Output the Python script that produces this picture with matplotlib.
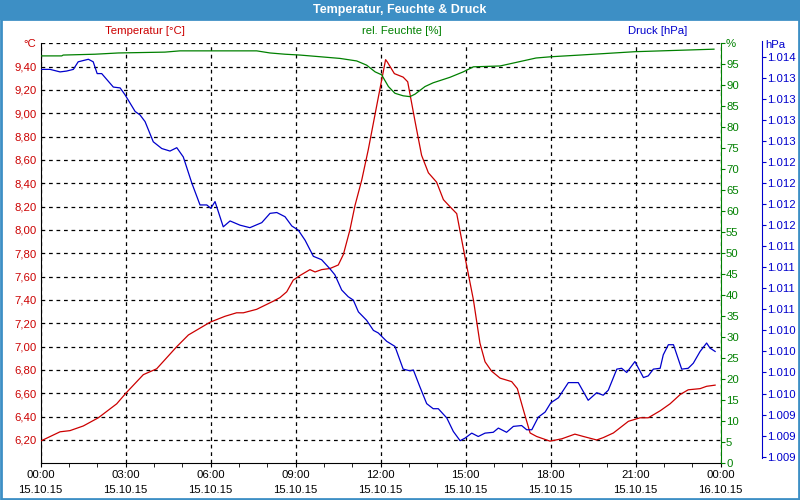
import numpy as np
import matplotlib
matplotlib.use("Agg")
import matplotlib.pyplot as plt
from matplotlib.patches import Rectangle

# Zeit in Stunden ab 15.10.15 00:00
temp_h = [0.00, 0.69, 1.04, 1.51, 2.04, 2.69, 3.01, 3.63, 4.10, 4.81, 5.22, 5.99,
          6.51, 6.92, 7.16, 7.63, 8.22, 8.45, 8.69, 8.92, 9.16, 9.51, 9.69, 9.92,
          10.22, 10.51, 10.69, 10.92, 11.10, 11.34, 11.57, 11.87, 12.18, 12.24,
          12.49, 12.80, 12.96, 13.22, 13.45, 13.69, 13.98, 14.22, 14.45, 14.69,
          14.98, 15.28, 15.51, 15.69, 15.92, 16.22, 16.63, 16.83, 17.04, 17.28,
          17.51, 17.98, 18.40, 18.86, 19.16, 19.63, 19.86, 20.22, 20.75, 21.16,
          21.45, 21.87, 22.22, 22.58, 22.86, 23.28, 23.51, 23.81]
temp_c = [6.19, 6.27, 6.28, 6.32, 6.39, 6.51, 6.60, 6.76, 6.81, 7.00, 7.10, 7.21,
          7.26, 7.29, 7.29, 7.32, 7.39, 7.42, 7.47, 7.57, 7.61, 7.66, 7.64, 7.66,
          7.67, 7.70, 7.79, 8.00, 8.21, 8.43, 8.69, 9.07, 9.46, 9.44,
          9.34, 9.31, 9.27, 8.93, 8.64, 8.49, 8.41, 8.26, 8.20, 8.14,
          7.77, 7.40, 7.03, 6.87, 6.79, 6.73, 6.70, 6.64, 6.46, 6.26,
          6.23, 6.19, 6.21, 6.25, 6.23, 6.20, 6.22, 6.26, 6.36, 6.39,
          6.39, 6.45, 6.51, 6.59, 6.63, 6.64, 6.66, 6.67]

hum_h = [0.00, 0.75, 0.80, 1.92, 2.75, 4.39, 4.92, 7.63, 8.10, 8.63, 9.16, 9.87,
         10.57, 11.16, 11.51, 11.81, 12.04, 12.28, 12.51, 12.80, 13.04, 13.22,
         13.57, 13.86, 14.45, 14.92, 15.28, 16.22, 17.49, 18.02, 19.04, 20.98, 23.77]
hum_pct = [97.0, 97.0, 97.2, 97.4, 97.7, 97.9, 98.2, 98.2, 97.7, 97.4, 97.2, 96.8,
           96.4, 95.8, 94.8, 93.2, 92.5, 89.7, 88.1, 87.5, 87.3, 87.9,
           89.7, 90.6, 91.9, 93.2, 94.4, 94.6, 96.5, 96.8, 97.2, 98.0, 98.6]

druck_h = [0.00, 0.34, 0.69, 0.92, 1.16, 1.33, 1.69, 1.86, 2.00, 2.16, 2.57, 2.81,
           2.98, 3.34, 3.51, 3.69, 3.98, 4.28, 4.57, 4.81, 5.04, 5.34, 5.63, 5.87,
           6.01, 6.16, 6.45, 6.69, 7.04, 7.39, 7.81, 8.10, 8.34, 8.63, 8.87, 9.10,
           9.34, 9.63, 9.92, 10.22, 10.39, 10.63, 10.86, 11.04, 11.22, 11.51, 11.75,
           11.92, 12.22, 12.51, 12.80, 13.04, 13.16, 13.39, 13.63, 13.86, 14.04,
           14.34, 14.57, 14.81, 14.98, 15.22, 15.45, 15.69, 15.98, 16.16, 16.45,
           16.69, 16.98, 17.16, 17.34, 17.57, 17.81, 18.01, 18.28, 18.63, 18.98,
           19.33, 19.63, 19.86, 20.04, 20.34, 20.51, 20.69, 20.98, 21.28, 21.45,
           21.63, 21.87, 21.98, 22.16, 22.34, 22.63, 22.86, 23.04, 23.28, 23.51,
           23.63, 23.81]
druck_hpa = [1013.35, 1013.35, 1013.32, 1013.33, 1013.35, 1013.44, 1013.47, 1013.44,
             1013.30, 1013.30, 1013.14, 1013.13, 1013.05, 1012.85, 1012.81, 1012.73,
             1012.49, 1012.41, 1012.38, 1012.42, 1012.31, 1012.00, 1011.74, 1011.74,
             1011.70, 1011.78, 1011.48, 1011.55, 1011.50, 1011.47, 1011.53, 1011.64,
             1011.65, 1011.60, 1011.49, 1011.44, 1011.32, 1011.13, 1011.09, 1010.98,
             1010.91, 1010.73, 1010.65, 1010.61, 1010.47, 1010.37, 1010.25, 1010.22,
             1010.12, 1010.06, 1009.79, 1009.77, 1009.78, 1009.58, 1009.38, 1009.32,
             1009.32, 1009.21, 1009.05, 1008.94, 1008.97, 1009.03, 1008.99, 1009.03,
             1009.04, 1009.09, 1009.04, 1009.11, 1009.12, 1009.07, 1009.07, 1009.22,
             1009.28, 1009.39, 1009.45, 1009.63, 1009.63, 1009.42, 1009.51, 1009.48,
             1009.54, 1009.79, 1009.80, 1009.75, 1009.88, 1009.69, 1009.71, 1009.79,
             1009.80, 1009.96, 1010.08, 1010.08, 1009.79, 1009.80, 1009.86, 1010.00,
             1010.10, 1010.04, 1010.00]

x_ticks = [0, 3, 6, 9, 12, 15, 18, 21, 24]
x_labels = ["00:00\n15.10.15", "03:00\n15.10.15", "06:00\n15.10.15",
            "09:00\n15.10.15", "12:00\n15.10.15", "15:00\n15.10.15",
            "18:00\n15.10.15", "21:00\n15.10.15", "00:00\n16.10.15"]
druck_labels = ["1.009", "1.009", "1.009", "1.010", "1.010", "1.010", "1.010",
                "1.011", "1.011", "1.011", "1.011", "1.012", "1.012", "1.012",
                "1.012", "1.013", "1.013", "1.013", "1.013", "1.014"]

ROT = "#cc0000"
GRUEN = "#008000"
BLAU = "#0000cc"
RAHMEN = "#3d8fc5"

plt.rcParams["font.family"] = ["Liberation Sans", "DejaVu Sans"]
plt.rcParams["font.size"] = 8.2

fig = plt.figure(figsize=(8, 5), dpi=100)
fig.patch.set_facecolor("white")

# Titelleiste und Rahmen
fig.patches.append(Rectangle((0, 0.96), 1, 0.04, transform=fig.transFigure,
                             facecolor=RAHMEN, edgecolor="none", zorder=0))
fig.patches.append(Rectangle((0.0015, 0.002), 0.997, 0.96, transform=fig.transFigure,
                             facecolor="none", edgecolor=RAHMEN, linewidth=2, zorder=0))
fig.text(0.5, 0.979, "Temperatur, Feuchte & Druck", color="white", fontweight="bold",
         fontsize=9, ha="center", va="center")

fig.text(145 / 800, 1 - 31 / 500, "Temperatur [°C]", color=ROT, ha="center", va="center")
fig.text(402 / 800, 1 - 31 / 500, "rel. Feuchte [%]", color=GRUEN, ha="center", va="center")
fig.text(658 / 800, 1 - 31 / 500, "Druck [hPa]", color=BLAU, ha="center", va="center")

ax = fig.add_axes([40.5 / 800, 1 - 463.3 / 500, 680 / 800, 420 / 500])
ax.set_facecolor("white")

# Temperatur (linke Achse)
ax.plot(temp_h, temp_c, color=ROT, linewidth=0.9, zorder=5)
ax.set_xlim(0, 24)
ax.set_ylim(6.0, 9.6)
t_ticks = np.round(np.arange(6.2, 9.61, 0.2), 2)
ax.set_yticks(t_ticks)
ax.set_yticklabels([f"{v:.2f}".replace(".", ",") for v in t_ticks[:-1]] + ["°C"])
ax.tick_params(axis="y", colors=ROT, length=0, pad=3)
ax.set_xticks(x_ticks)
ax.set_xticklabels(x_labels, linespacing=1.55)
ax.set_xticks(np.arange(0, 25, 1), minor=True)
ax.tick_params(axis="x", which="both", direction="out", length=3, color="black", pad=2)
ax.grid(True, color="black", linestyle=(0, (3, 3)), linewidth=0.9)
ax.spines["top"].set_visible(False)
ax.spines["right"].set_visible(False)
ax.spines["left"].set_color("black")
ax.spines["bottom"].set_color("black")

# Feuchte (rechte Achse)
ax2 = ax.twinx()
ax2.plot(hum_h, hum_pct, color=GRUEN, linewidth=0.9, zorder=4)
ax2.set_ylim(0, 100)
h_ticks = list(range(0, 101, 5))
ax2.set_yticks(h_ticks)
ax2.set_yticklabels([str(v) for v in h_ticks[:-1]] + ["%"])
ax2.tick_params(axis="y", colors=GRUEN, direction="out", length=3, pad=1)
for s in ["top", "left", "bottom"]:
    ax2.spines[s].set_visible(False)
ax2.spines["right"].set_color(GRUEN)

# Druck (zweite rechte Achse)
ax3 = ax.twinx()
ax3.plot(druck_h, druck_hpa, color=BLAU, linewidth=0.9, zorder=6)
p0 = 1008.75
p_per_px = 0.25 / 21.05
ax3.set_ylim(p0 - 6.6 * p_per_px, p0 + 413.4 * p_per_px)
p_ticks = [p0 + 0.25 * k for k in range(len(druck_labels))]
ax3.set_yticks(p_ticks)
ax3.set_yticklabels(druck_labels)
ax3.tick_params(axis="y", colors=BLAU, direction="out", length=3, pad=1)
ax3.spines["right"].set_position(("outward", 41.5 * 0.72))
ax3.spines["right"].set_color(BLAU)
ax3.spines["right"].set_bounds(p0 - 1.5 * p_per_px, p0 + 415.7 * p_per_px)
for s in ["top", "left", "bottom"]:
    ax3.spines[s].set_visible(False)
ax3.text(1.066, 0.995, "hPa", transform=ax.transAxes, color=BLAU, ha="left", va="center")

fig.savefig("out.png", dpi=100)
